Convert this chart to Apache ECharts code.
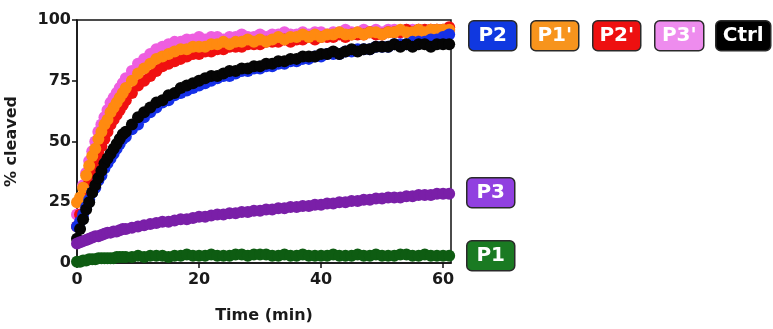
<!DOCTYPE html>
<html lang="en">
<head>
    <meta charset="UTF-8" />
    <title>% cleaved</title>
    <script src="https://cdn.jsdelivr.net/npm/echarts@6/dist/echarts.min.js"></script>
</head>
<body style="margin:0">
    <div id="main" style="width: 773px; height: 329px"></div>
    <script>
        // time points (min): every half minute at the start, then every minute
        var time = [0, 0.5, 1, 1.5, 2, 2.5, 3, 3.5, 4, 4.5, 5, 5.5, 6, 6.5, 7, 7.5, 8,
            9, 10, 11, 12, 13, 14, 15, 16, 17, 18, 19, 20, 21, 22, 23, 24, 25, 26, 27, 28, 29, 30,
            31, 32, 33, 34, 35, 36, 37, 38, 39, 40, 41, 42, 43, 44, 45, 46, 47, 48, 49, 50,
            51, 52, 53, 54, 55, 56, 57, 58, 59, 60, 61]

        var xTicks = [0, 20, 40, 60]

        // % cleaved
        var p3q = [20, 26, 32, 37, 42, 46, 50, 54, 57, 60, 63, 66, 68, 70, 72, 74, 76,
            79, 82, 84, 86, 88, 89, 90, 91, 91, 92, 92, 93, 92, 93, 93, 92, 93, 93, 94, 93, 93,
            94, 93, 94, 94, 95, 94, 94, 95, 94, 95, 95, 94, 95, 95, 96, 95, 95, 96, 95, 96, 95, 96, 96, 95, 96, 96, 96, 95, 96, 96, 96, 96]
        var p2q = [15, 20, 25, 29, 33, 37, 41, 45, 48, 51, 54, 57, 59, 61, 63, 65, 67,
            70, 73, 75, 77, 79, 81, 82, 83, 84, 85, 86, 86, 87, 87, 88, 88, 89, 89, 89, 90, 90,
            90, 91, 91, 91, 92, 91, 92, 92, 93, 92, 93, 93, 93, 94, 93, 94, 94, 94, 95, 94, 94, 95, 95, 95, 96, 95, 96, 96, 96, 96, 96, 97]
        var p1q = [25, 27, 31, 36, 40, 44, 47, 51, 54, 57, 59, 62, 64, 66, 68, 70, 72,
            75, 78, 80, 82, 84, 85, 86, 87, 88, 88, 89, 89, 89, 90, 90, 91, 90, 91, 91, 92, 91,
            92, 91, 92, 93, 92, 93, 93, 94, 93, 94, 93, 94, 94, 95, 94, 94, 95, 94, 95, 95, 94, 95, 95, 96, 95, 95, 96, 95, 96, 96, 96, 96]
        var p2 = [15, 17, 20, 23, 26, 29, 31, 34, 36, 39, 41, 43, 45, 47, 49, 51, 52,
            55, 57, 60, 62, 64, 66, 67, 69, 70, 71, 72, 73, 74, 75, 76, 77, 77, 78, 79, 79, 80,
            80, 81, 81, 82, 82, 83, 83, 84, 84, 85, 85, 86, 86, 86, 87, 87, 88, 88, 88, 89, 89, 89, 90, 90, 90, 91, 91, 91, 92, 92, 93, 94]
        var ctrl = [10, 14, 18, 22, 25, 29, 32, 35, 38, 41, 43, 45, 47, 49, 51, 53, 54,
            57, 60, 62, 64, 66, 67, 69, 70, 72, 73, 74, 75, 76, 77, 77, 78, 79, 79, 80, 80, 81,
            81, 82, 82, 83, 83, 84, 84, 85, 85, 85, 86, 86, 87, 86, 87, 88, 87, 88, 88, 89, 89, 89, 90, 89, 90, 89, 90, 90, 89, 90, 90, 90]
        var p3 = [8, 8.5, 9, 9.5, 10, 10.5, 11, 11, 11.5, 12, 12.5, 12.5, 13, 13, 13.5, 14, 14,
            14.5, 15, 15.5, 16, 16.5, 17, 17, 17.5, 18, 18, 18.5, 19, 19, 19.5, 20, 20, 20.5, 20.5, 21, 21, 21.5,
            21.5, 22, 22, 22.5, 22.5, 23, 23, 23.5, 23.5, 24, 24, 24.5, 24.5, 25, 25, 25.5, 25.5, 26, 26, 26.5, 26.5, 27, 27, 27, 27.5, 27.5, 28, 28, 28, 28.5, 28.5, 28.5]
        var p1 = [0.5, 0.5, 1, 1, 1.5, 1.5, 1.5, 2, 2, 2, 2, 2, 2, 2.5, 2.5, 2.5, 2.5,
            2.5, 3, 2.5, 3, 3, 3, 2.5, 3, 3, 3.5, 3, 3, 3, 3.5, 3, 3, 3, 3.5, 3.5, 3, 3.5,
            3.5, 3.5, 3, 3, 3.5, 3, 3, 3.5, 3, 3, 3, 3, 3.5, 3, 3, 3, 3.5, 3, 3, 3.5, 3, 3, 3, 3.5, 3.5, 3, 3, 3.5, 3, 3, 3, 3]

        var names = ['P3\'', 'P2\'', 'P1\'', 'P2', 'Ctrl', 'P3', 'P1']
        var values = [p3q, p2q, p1q, p2, ctrl, p3, p1]
        var dotColors = ['#ee5ee0', '#f01010', '#ff8a10', '#1530e8', '#050505', '#7a1fa8', '#0e5c12']

        // label boxes
        var boxNames = ['P2', 'P1\'', 'P2\'', 'P3\'', 'Ctrl', 'P3', 'P1']
        var boxColors = ['#1038e0', '#f7941d', '#ee1010', '#ee8cee', '#000000', '#9140e0', '#1a7a22']
        var boxPos = [[468, 20, 48], [530, 20, 48], [592, 20, 48], [654, 20, 49], [715, 20, 55], [466, 177, 48], [466, 240, 48]]

        var mCharts = echarts.init(document.getElementById('main'))

        var series = []
        for (var i = 0; i < names.length; i++) {
            var d = []
            for (var j = 0; j < time.length; j++) d.push([time[j], values[i][j]])
            series.push({
                name: names[i],
                type: 'scatter',
                data: d,
                symbolSize: 12,
                itemStyle: { color: dotColors[i], opacity: 1 },
                z: 2 + i
            })
        }

        var graphics = []
        for (var k = 0; k < boxNames.length; k++) {
            var b = boxPos[k]
            graphics.push({
                type: 'group',
                left: b[0],
                top: b[1],
                children: [
                    {
                        type: 'rect',
                        shape: { x: 0, y: 0, width: b[2], height: 30, r: 5 },
                        style: { fill: boxColors[k], stroke: '#2a2a2a', lineWidth: 1.5 }
                    },
                    {
                        type: 'text',
                        x: b[2] / 2,
                        y: 15,
                        style: {
                            text: boxNames[k],
                            fill: '#ffffff',
                            font: 'bold 20px "DejaVu Sans"',
                            textAlign: 'center',
                            textVerticalAlign: 'middle'
                        }
                    }
                ]
            })
        }

        var labelFont = {
            color: '#1a1a1a',
            fontFamily: 'DejaVu Sans',
            fontWeight: 'bold',
            fontSize: 16
        }

        var option = {
            animation: false,
            grid: {
                left: 77, right: 322, top: 20, bottom: 63,
                show: true, borderColor: '#111', borderWidth: 1.5
            },
            xAxis: {
                type: 'value',
                min: 0,
                max: 61.3,
                name: 'Time (min)',
                nameLocation: 'middle',
                nameGap: 45,
                nameTextStyle: labelFont,
                axisLine: { lineStyle: { color: '#111', width: 1.5 } },
                axisTick: { length: 5, customValues: xTicks, lineStyle: { color: '#111', width: 1.5 } },
                axisLabel: Object.assign({ margin: 9, customValues: xTicks }, labelFont),
                splitLine: { show: false }
            },
            yAxis: {
                type: 'value',
                min: 0,
                max: 100,
                interval: 25,
                name: '% cleaved',
                nameLocation: 'middle',
                nameGap: 57,
                nameRotate: 90,
                nameTextStyle: labelFont,
                axisLine: { show: true, lineStyle: { color: '#111', width: 1.5 } },
                axisTick: { show: true, length: 5, lineStyle: { color: '#111', width: 1.5 } },
                axisLabel: Object.assign({ margin: 6 }, labelFont),
                splitLine: { show: false }
            },
            graphic: graphics,
            series: series
        }
        mCharts.setOption(option)
    </script>
</body>
</html>
